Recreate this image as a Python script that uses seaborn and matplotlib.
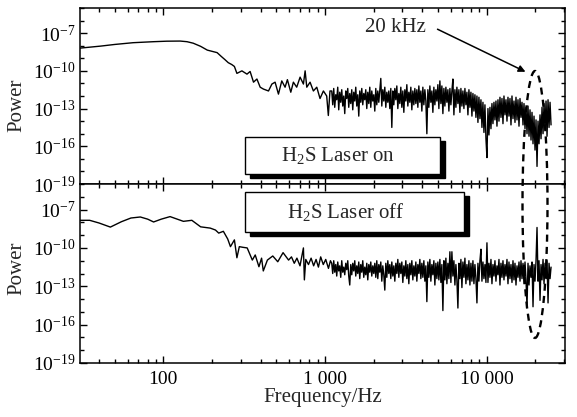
import numpy as np
import pandas as pd
import matplotlib
matplotlib.use("Agg")
import matplotlib.pyplot as plt
from matplotlib.patches import Rectangle, Ellipse, FancyArrowPatch
from matplotlib.ticker import FixedLocator, NullFormatter
import seaborn as sns

# ---------------- spectra (power given as log10 values) ----------------
# Laser on: low-frequency part, explicit frequencies
on_lo_freq = [30, 41, 50, 65, 87, 105, 127, 140, 153, 170, 187, 200, 215, 228, 240,
              252, 265, 275, 285, 306, 329, 344, 361, 379, 397, 416, 447, 469, 491,
              515, 540, 566, 585, 614, 637, 668, 701, 735, 753, 771, 808, 847, 889,
              931, 977, 1024, 1048, 1073]
on_lo_logp = [-8.2, -8.03, -7.9, -7.76, -7.68, -7.64, -7.63, -7.68, -7.8, -8.05, -8.35,
              -8.45, -8.55, -8.85, -9.1, -9.35, -9.5, -9.65, -10.2, -10.0, -10.26, -10.05,
              -10.9, -10.65, -11.3, -11.45, -11.6, -11.05, -10.9, -11.85, -10.8, -11.3,
              -10.7, -11.7, -10.9, -11.3, -10.5, -11.05, -10.0, -11.3, -10.9, -11.6,
              -11.3, -12.2, -11.6, -12.0, -13.55, -11.6]

# Laser on: dense part, 1.1 kHz .. 25 kHz on an even log grid
on_hi_logp = [
    -11.6, -12.7, -11.4, -12.9, -11.9, -12.3, -11.3, -13.1, -11.7, -12.5,
    -11.5, -12.8, -12.0, -13.4, -11.6, -12.2, -11.4, -12.9, -11.8, -12.6,
    -11.5, -13.1, -11.7, -12.4, -11.3, -12.8, -11.9, -13.6, -11.6, -12.5,
    -11.4, -12.7, -11.8, -12.3, -11.5, -13.0, -11.7, -12.6, -11.3, -12.9,
    -11.6, -12.4, -11.9, -13.2, -11.4, -12.7, -11.6, -12.5, -11.5, -10.6,
    -12.8, -11.5, -12.4, -11.3, -12.9, -11.7, -12.5, -11.6, -13.0, -11.4,
    -14.5, -11.6, -12.7, -11.4, -12.3, -11.2, -13.0, -11.8, -12.6, -11.3,
    -12.9, -11.6, -13.3, -11.5, -12.4, -11.1, -12.8, -11.7, -12.5, -11.3,
    -13.1, -11.6, -12.7, -11.4, -12.6, -11.5, -12.9, -11.2, -12.5, -11.6,
    -13.2, -11.3, -12.7, -11.5, -12.4, -15.0, -11.5, -12.9, -11.2, -12.5,
    -11.6, -13.3, -11.3, -12.7, -11.5, -12.4, -11.1, -13.0, -10.8, -12.6,
    -11.2, -13.4, -11.4, -12.8, -11.3, -12.5, -11.5, -13.2, -11.4, -12.7,
    -11.6, -10.65, -13.5, -11.5, -12.9, -11.3, -12.6, -11.5, -13.3, -11.4,
    -12.8, -11.6, -13.0, -11.4, -12.7, -11.7, -13.5, -11.5, -12.9, -11.7,
    -13.6, -11.8, -13.2, -11.9, -13.7, -12.0, -14.1, -12.1, -13.8, -12.3,
    -14.5, -12.5, -14.9, -12.7, -15.4, -16.9, -13.0, -15.1, -12.9, -14.6,
    -12.6, -14.2, -12.5, -13.9, -12.4, -14.4, -12.3, -14.0, -12.1, -13.7,
    -12.2, -14.2, -12.0, -13.5, -12.3, -14.0, -12.1, -13.6, -12.2, -14.3,
    -12.0, -13.8, -12.4, -14.1, -12.1, -13.9, -12.3, -14.4, -12.2, -13.7,
    -12.5, -14.3, -12.6, -14.6, -12.9, -15.0, -12.8, -15.2, -13.1, -15.5,
    -13.3, -15.8, -13.6, -16.3, -13.9, -17.6, -14.0, -15.8, -13.5, -15.4,
    -12.9, -15.0, -12.6, -14.7, -12.4, -15.2, -12.3, -14.5, -12.5, -14.3]

# Laser off: low-frequency part, explicit frequencies
off_lo_freq = [30, 35, 40, 47, 55, 63, 72, 80, 87, 97, 110, 122, 133, 150, 170, 195,
               210, 220, 235, 250, 260, 275, 285, 295, 310, 330, 355, 370, 390, 405,
               415, 440, 475, 510, 550, 595, 620, 645, 670, 700, 735, 745, 760, 790,
               820, 850, 880, 910, 940, 975, 1010, 1050, 1080]
off_lo_logp = [-7.84, -7.84, -8.05, -8.37, -7.95, -7.66, -7.58, -7.75, -7.97, -7.75,
               -7.55, -7.75, -7.92, -7.84, -8.35, -8.45, -8.6, -8.84, -8.7, -9.3, -9.9,
               -9.37, -10.77, -9.9, -9.95, -10.0, -10.95, -10.55, -11.47, -10.8, -11.8,
               -10.95, -10.63, -11.08, -10.37, -10.95, -10.7, -11.2, -10.8, -11.4,
               -10.0, -12.5, -10.9, -11.3, -10.8, -11.4, -10.9, -11.5, -10.7, -11.3,
               -10.9, -11.6, -11.0]

# Laser off: dense part, 1.1 kHz .. 25 kHz on an even log grid
off_hi_logp = [
    -11.2, -12.0, -11.0, -11.9, -11.3, -12.2, -11.1, -11.8, -11.4, -12.3,
    -11.0, -11.9, -11.5, -12.1, -11.2, -11.7, -11.0, -12.2, -12.9, -11.3,
    -12.1, -11.2, -11.8, -11.0, -12.2, -11.4, -12.0, -11.1, -12.4, -11.3,
    -11.9, -11.0, -12.3, -11.5, -12.1, -11.2, -12.5, -11.3, -11.9, -11.1,
    -12.2, -11.4, -12.0, -11.2, -12.3, -11.0, -12.4, -11.3, -11.9, -11.1,
    -12.6, -11.4, -12.1, -13.3, -11.2, -12.3, -11.0, -12.0, -11.3, -12.4,
    -11.1, -12.2, -11.4, -12.6, -11.2, -12.0, -10.9, -12.3, -11.2, -12.0,
    -11.1, -12.7, -11.4, -12.2, -11.0, -12.4, -11.3, -12.8, -11.2, -12.1,
    -11.0, -12.5, -11.4, -12.2, -11.1, -12.6, -11.3, -12.0, -10.9, -12.4,
    -11.2, -12.3, -11.0, -12.6, -11.4, -14.2, -11.1, -12.3, -10.9, -12.6,
    -11.3, -12.1, -11.0, -12.9, -11.2, -12.4, -11.1, -12.5, -10.9, -12.7,
    -11.3, -14.9, -11.0, -12.5, -10.8, -12.8, -11.2, -12.4, -10.3, -12.7,
    -10.3, -12.2, -11.0, -12.9, -11.3, -12.5, -14.7, -11.2, -12.4, -10.9,
    -13.1, -11.1, -12.3, -10.8, -12.8, -11.3, -12.5, -11.0, -12.9, -11.2,
    -12.6, -11.0, -12.8, -11.3, -12.4, -14.3, -11.2, -12.6, -11.0, -10.1,
    -12.6, -11.1, -12.4, -11.3, -12.7, -9.6, -12.7, -11.2, -12.3, -10.9,
    -12.8, -11.3, -12.2, -11.0, -12.6, -11.4, -12.1, -10.9, -12.9, -11.2,
    -12.3, -11.0, -12.5, -11.3, -12.2, -10.9, -12.8, -11.1, -12.4, -11.3,
    -12.7, -11.0, -12.5, -11.2, -12.9, -11.4, -12.3, -11.1, -12.6, -11.0,
    -12.4, -11.2, -12.8, -11.1, -12.5, -14.6, -11.2, -12.9, -11.4, -12.3,
    -11.1, -14.6, -11.3, -12.6, -11.0, -8.4, -12.6, -11.0, -14.1, -11.3,
    -12.5, -10.9, -12.8, -11.2, -12.4, -11.0, -14.3, -11.2, -12.4, -11.5]

dense_f_start, dense_f_stop = 1100, 25000

x_ticks = [100, 1000, 10000]
x_tick_labels = ["100", "1 000", "10 000"]
y_exponents = [-19, -16, -13, -10, -7]


def spectrum(lo_freq, lo_logp, hi_logp):
    hi_freq = np.geomspace(dense_f_start, dense_f_stop, len(hi_logp))
    f = np.concatenate([np.asarray(lo_freq, float), hi_freq])
    p = 10.0 ** np.concatenate([np.asarray(lo_logp, float), np.asarray(hi_logp, float)])
    return pd.DataFrame({"Frequency": f, "Power": p})


df_on = spectrum(on_lo_freq, on_lo_logp, on_hi_logp)
df_off = spectrum(off_lo_freq, off_lo_logp, off_hi_logp)

# ---------------- style ----------------
sns.set_theme(style="ticks")
plt.rcParams["font.family"] = ["Liberation Serif", "DejaVu Serif"]
plt.rcParams["mathtext.fontset"] = "custom"
plt.rcParams["mathtext.rm"] = "Liberation Serif"
plt.rcParams["mathtext.it"] = "Liberation Serif:italic"
plt.rcParams["mathtext.bf"] = "Liberation Serif:bold"

W, H = 577, 417
fig = plt.figure(figsize=(W / 100, H / 100), dpi=100)
gs = fig.add_gridspec(2, 1, left=80 / W, right=565 / W, top=1 - 8 / H,
                      bottom=1 - 363 / H, hspace=0, height_ratios=[176, 179])
ax_on = fig.add_subplot(gs[0])
ax_off = fig.add_subplot(gs[1], sharex=ax_on)

for ax, df in ((ax_on, df_on), (ax_off, df_off)):
    ax.set_xscale("log")
    ax.set_yscale("log")
    sns.lineplot(data=df, x="Frequency", y="Power", ax=ax, color="black",
                 linewidth=1.0, estimator=None, sort=False)
    ax.set_xlim(30.5, 30500)
    ax.set_ylim(1e-19, 1e-5)
    ax.yaxis.set_major_locator(FixedLocator([10.0 ** e for e in y_exponents]))
    ax.yaxis.set_minor_locator(FixedLocator([10.0 ** e for e in range(-19, -4)]))
    ax.set_yticklabels([rf"$10^{{{e}}}$" for e in y_exponents])
    ax.yaxis.set_minor_formatter(NullFormatter())
    ax.xaxis.set_major_locator(FixedLocator(x_ticks))
    ax.xaxis.set_minor_locator(FixedLocator(
        [m * 10.0 ** d for d in range(1, 5) for m in range(2, 10)]))
    ax.xaxis.set_minor_formatter(NullFormatter())
    ax.tick_params(which="both", direction="in", top=True, right=True,
                   labelsize=14, width=1.0, colors="black")
    ax.tick_params(which="major", length=5)
    ax.tick_params(which="minor", length=3)
    ax.tick_params(axis="y", pad=3)
    ax.tick_params(axis="x", pad=6)
    for s in ax.spines.values():
        s.set_linewidth(1.1)
        s.set_color("black")
    ax.set_ylabel("Power", fontsize=15)

ax_on.set_xlabel("")
ax_on.tick_params(axis="x", labelbottom=False)
ax_off.set_xticklabels(x_tick_labels)
ax_off.set_xlabel("Frequency/Hz", fontsize=15)
ax_on.yaxis.set_label_coords(-0.11, 0.45)
ax_off.yaxis.set_label_coords(-0.11, 0.53)
ax_off.xaxis.set_label_coords(0.5, -0.14)


# ---------------- annotations (positions in figure pixels, y from top) ----------------
def fx(px):
    return px / W


def fy(py):
    return 1 - py / H


def label_box(x0, y0, x1, y1, text, tx, ty):
    shadow = Rectangle((fx(x0 + 5), fy(y1 + 4)), fx(x1 - x0), (y1 - y0) / H,
                       transform=fig.transFigure, facecolor="black",
                       edgecolor="black", zorder=5)
    box = Rectangle((fx(x0), fy(y1)), fx(x1 - x0), (y1 - y0) / H,
                    transform=fig.transFigure, facecolor="white",
                    edgecolor="black", linewidth=1.0, zorder=6)
    fig.add_artist(shadow)
    fig.add_artist(box)
    fig.text(fx(tx), fy(ty), text, ha="center", va="center", fontsize=15,
             zorder=7)


label_box(245, 137, 440, 174, r"H$_2$S Laser on", 338, 156)
label_box(245, 192, 464, 232, r"H$_2$S Laser off", 346, 212)

fig.add_artist(Ellipse((fx(535), fy(204.5)), 25 / W, 267 / H,
                       transform=fig.transFigure, fill=False, edgecolor="black",
                       linewidth=1.7, linestyle=(0, (3, 2.2)), zorder=8))

fig.text(fx(395), fy(27), "20 kHz", ha="center", va="center", fontsize=15)
fig.add_artist(FancyArrowPatch((fx(435), fy(28)), (fx(528), fy(73)),
                               transform=fig.transFigure, arrowstyle="-|>",
                               mutation_scale=10, linewidth=1.1, color="black",
                               zorder=8))

fig.savefig("out.png", dpi=100)
